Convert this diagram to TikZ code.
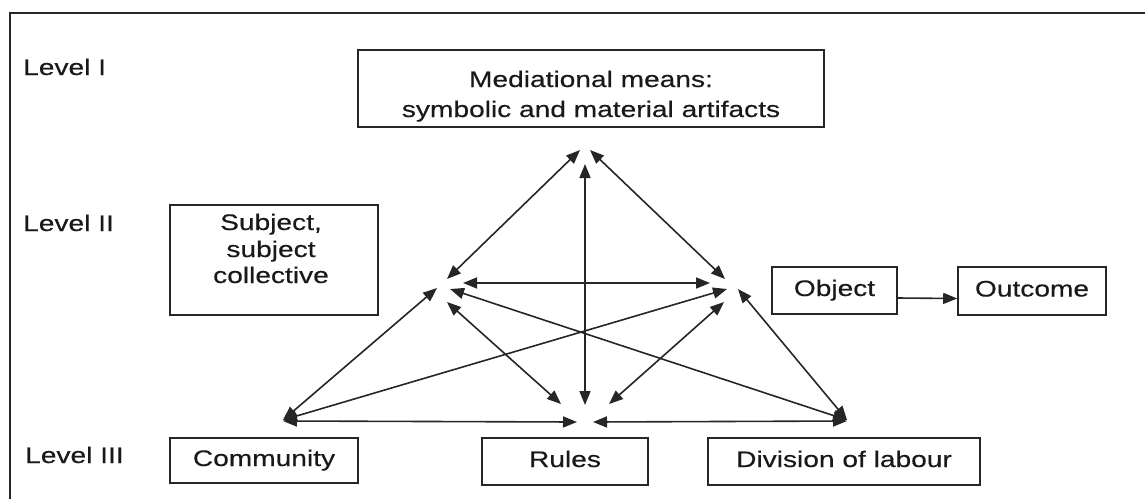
\documentclass[tikz,border=0pt]{standalone}
\usepackage{fontspec}
\setmainfont{Liberation Sans}[FakeStretch=1.25,FakeBold=0.4]
\usetikzlibrary{arrows.meta}
\begin{document}
\begin{tikzpicture}[x=1pt,y=-1pt,
  box/.style={draw=black!85, line width=1.6pt, inner sep=0pt},
  lbl/.style={font=\fontsize{22.5}{27}\selectfont, inner sep=0pt, text=black!90},
  sbox/.style={box, font=\fontsize{22.5}{27}\selectfont, text=black!90, text height=16pt, text depth=5pt},
  tip/.tip={Triangle[length=14pt,width=11pt]},
  link/.style={draw=black!85, line width=1.6pt, tip-tip},
  onelink/.style={draw=black!85, line width=1.6pt, -tip}]
\useasboundingbox (0,0) rectangle (1145,499);
% frame
\coordinate (fTR) at (1145,13);
\coordinate (fTL) at (10,13);
\coordinate (fBL) at (10,499);
\draw[line width=2.2pt, black!85] (fTR) -- (fTL) -- (fBL);
% level labels
\node[lbl, anchor=base west] (l1) at (23,75) {Level I};
\node[lbl, anchor=base west] (l2) at (23,231) {Level II};
\node[lbl, anchor=base west] (l3) at (25,463) {Level III};
% mediational means
\node[box, minimum width=466pt, minimum height=77pt] (med) at (591,88.5) {};
\node[lbl, anchor=base] (medA) at (591,87) {Mediational means:};
\node[lbl, anchor=base] (medB) at (591,117) {symbolic and material artifacts};
% subject
\node[box, minimum width=208pt, minimum height=110pt] (subj) at (274,260) {};
\node[lbl, anchor=base] (subjA) at (271,230) {Subject,};
\node[lbl, anchor=base] (subjB) at (271,257) {subject};
\node[lbl, anchor=base] (subjC) at (271,283) {collective};
% single-line boxes
\node[sbox, minimum width=125pt, minimum height=47pt] (obj) at (834.5,290.5) {Object};
\node[sbox, minimum width=148pt, minimum height=48pt] (out) at (1032,291) {Outcome};
\node[sbox, minimum width=188pt, minimum height=45pt] (com) at (264,460.5) {Community};
\node[sbox, minimum width=166pt, minimum height=47pt] (rul) at (565,461.5) {Rules};
\node[sbox, minimum width=272pt, minimum height=47pt] (div) at (844,461.5) {Division of labour};
\draw[onelink] ([yshift=-7.5pt]obj.east) -- ([yshift=-7.5pt]out.west);
% triangle end points
\coordinate (MS1) at (580,150); \coordinate (MS2) at (447,279);
\coordinate (MO1) at (590,150); \coordinate (MO2) at (725,279);
\coordinate (MR1) at (585,164); \coordinate (MR2) at (585,405);
\coordinate (SO1) at (463,283); \coordinate (SO2) at (710,283);
\coordinate (SC1) at (437,288); \coordinate (SC2) at (283,420);
\coordinate (SR1) at (447,302); \coordinate (SR2) at (561,404);
\coordinate (SD1) at (450,289); \coordinate (SD2) at (847,420);
\coordinate (OC1) at (727,289); \coordinate (OC2) at (283,420);
\coordinate (OR1) at (724,302); \coordinate (OR2) at (609,404);
\coordinate (OD1) at (738,289); \coordinate (OD2) at (847,420);
\coordinate (CR1) at (283,421); \coordinate (CR2) at (577,422);
\coordinate (RD1) at (593,422); \coordinate (RD2) at (847,421);
\draw[link] (MS1) -- (MS2);
\draw[link] (MO1) -- (MO2);
\draw[link] (MR1) -- (MR2);
\draw[link] (SO1) -- (SO2);
\draw[link] (SC1) -- (SC2);
\draw[link] (SR1) -- (SR2);
\draw[link] (SD1) -- (SD2);
\draw[link] (OC1) -- (OC2);
\draw[link] (OR1) -- (OR2);
\draw[link] (OD1) -- (OD2);
\draw[link] (CR1) -- (CR2);
\draw[link] (RD1) -- (RD2);
\end{tikzpicture}
\end{document}
